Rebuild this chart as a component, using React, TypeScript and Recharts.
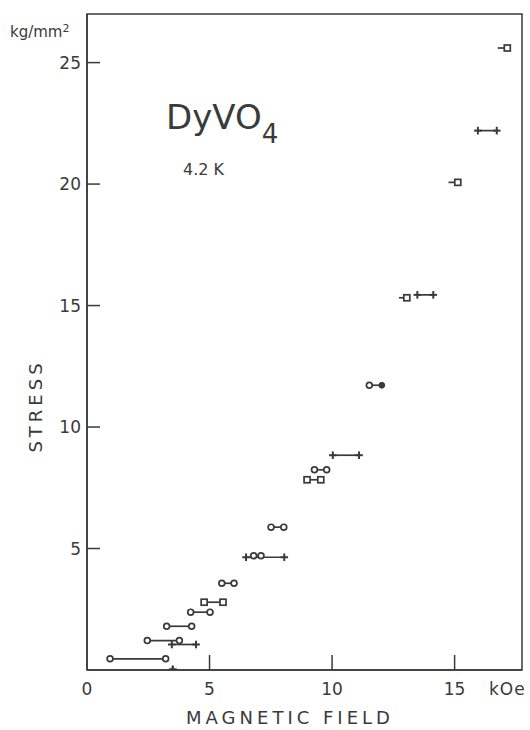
import React from 'react';
import { ScatterChart, Scatter, XAxis, YAxis, ReferenceArea, Customized } from 'recharts';

// each interval: stress level, field where it starts and ends (kOe), marker at each end
const stress = [0.02, 0.46, 1.05, 1.21, 1.8, 2.38, 2.79, 3.57, 4.64, 4.7, 5.88, 7.83, 8.24, 8.84, 11.72, 15.32, 15.44, 20.07, 22.2, 25.6];
const fieldFrom = [3.5, 0.94, 3.46, 2.46, 3.25, 4.23, 4.78, 5.5, 6.49, 6.8, 7.51, 8.98, 9.28, 10.03, 11.52, 12.73, 13.48, 14.75, 15.95, 16.76];
const fieldTo = [3.5, 3.21, 4.45, 3.77, 4.27, 5.02, 5.55, 6.0, 8.05, 7.1, 8.03, 9.54, 9.78, 11.1, 12.03, 13.05, 14.13, 15.13, 16.72, 17.15];
const markFrom = ['+', 'o', '+', 'o', 'o', 'o', 's', 'o', '+', 'o', 'o', 's', 'o', '+', 'o', '-', '+', '-', '+', '-'];
const markTo = ['+', 'o', '+', 'o', 'o', 'o', 's', 'o', '+', 'o', 'o', 's', 'o', '+', '.', 's', '+', 's', '+', 's'];

const yTicks = [5, 10, 15, 20, 25];
const xTicks = [0, 5, 10, 15];

const INK = '#3a3a3a';
const FONT = '"DejaVu Sans", sans-serif';

const segments = stress.map((s, i) => [
  { x: fieldFrom[i], y: s, m: markFrom[i] },
  { x: fieldTo[i], y: s, m: markTo[i] },
]);

const Marker = (props: any) => {
  const { cx, cy, payload } = props;
  if (cx == null || cy == null) return <g />;
  const m = payload.m;
  if (m === 'o') return <circle cx={cx} cy={cy} r={2.9} fill="#fff" stroke={INK} strokeWidth={1.7} />;
  if (m === '.') return <circle cx={cx} cy={cy} r={2.9} fill={INK} stroke={INK} strokeWidth={1} />;
  if (m === 's') return <rect x={cx - 3} y={cy - 3} width={6} height={6} fill="#fff" stroke={INK} strokeWidth={1.7} />;
  if (m === '+')
    return (
      <g stroke={INK} strokeWidth={2}>
        <line x1={cx - 3.8} x2={cx + 3.8} y1={cy} y2={cy} />
        <line x1={cx} x2={cx} y1={cy - 3.8} y2={cy + 3.8} />
      </g>
    );
  return <g />;
};

const YTick = ({ x, y, payload }: any) => (
  <g>
    <line x1={x} x2={x + 13} y1={y} y2={y} stroke={INK} strokeWidth={1.5} />
    <text x={x - 6} y={y} dy="0.36em" textAnchor="end" fontSize={17} fill={INK} fontFamily={FONT}>
      {payload.value}
    </text>
  </g>
);

const XTick = ({ x, y, payload }: any) => (
  <g>
    {payload.value !== 0 && <line x1={x} x2={x} y1={y} y2={y - 15} stroke={INK} strokeWidth={1.5} />}
    <text x={x} y={y + 25} textAnchor="middle" fontSize={17} fill={INK} fontFamily={FONT}>
      {payload.value}
    </text>
  </g>
);

const Labels = () => (
  <g fill={INK} fontFamily={FONT}>
    <text x={10} y={37} fontSize={15}>
      kg/mm<tspan dy={-5} fontSize={11}>2</tspan>
    </text>
    <text x={489} y={695} fontSize={17} letterSpacing={1}>kOe</text>
    <text x={166} y={129} fontSize={34}>
      DyVO<tspan dy={14} fontSize={26}>4</tspan>
    </text>
    <text x={183} y={175} fontSize={16}>4.2 K</text>
    <text x={290} y={724} fontSize={18} textAnchor="middle" letterSpacing={4}>MAGNETIC FIELD</text>
    <text x={0} y={0} fontSize={18} textAnchor="middle" letterSpacing={4} transform="translate(42 406) rotate(-90)">
      STRESS
    </text>
  </g>
);

export default function App() {
  return (
    <div style={{ position: 'absolute', left: 0, top: 0, width: 530, height: 730, background: '#fff' }}>
      <ScatterChart width={530} height={730} margin={{ top: 14, right: 8, bottom: 0, left: 0 }}>
        <XAxis
          type="number"
          dataKey="x"
          domain={[0, 17.75]}
          ticks={xTicks}
          allowDataOverflow
          height={60}
          tickSize={0}
          tickMargin={0}
          tickLine={false}
          axisLine={{ stroke: INK, strokeWidth: 1.5 }}
          tick={<XTick />}
        />
        <YAxis
          type="number"
          dataKey="y"
          domain={[0, 27]}
          ticks={yTicks}
          allowDataOverflow
          width={87}
          tickSize={0}
          tickMargin={0}
          tickLine={false}
          axisLine={{ stroke: INK, strokeWidth: 1.5 }}
          tick={<YTick />}
        />
        <ReferenceArea x1={0} x2={17.75} y1={0} y2={27} fill="none" stroke={INK} strokeWidth={1.5} />
        {segments.map((seg, i) => (
          <Scatter
            key={i}
            data={seg}
            line={{ stroke: INK, strokeWidth: 1.7 }}
            shape={<Marker />}
            isAnimationActive={false}
          />
        ))}
        <Customized component={<Labels />} />
      </ScatterChart>
    </div>
  );
}
